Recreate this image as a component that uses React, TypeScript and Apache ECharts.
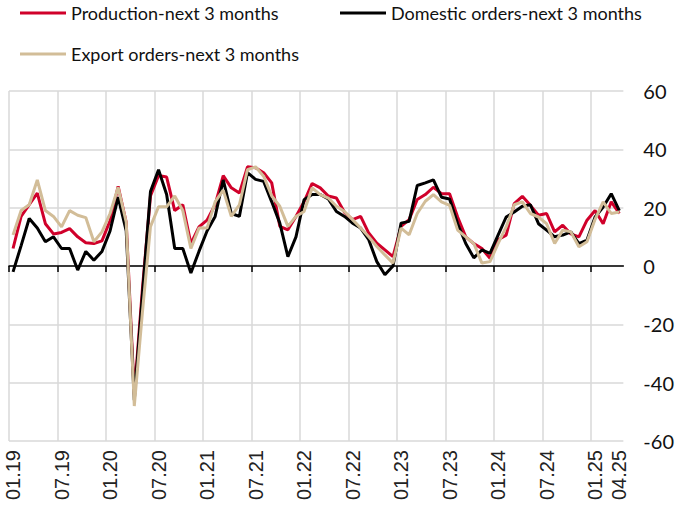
import React, { useEffect, useRef } from 'react';
import * as echarts from 'echarts';

const seriesNames = ['Production-next 3 months', 'Domestic orders-next 3 months', 'Export orders-next 3 months'];

// Monthly values, Jan 2019 .. Apr 2025 (76 months)
const production = [
  6, 17, 21, 25, 14.5, 11, 11.5, 12.8, 10, 8, 7.7, 8.6,
  15.5, 27.3, 15, -44, -8, 24, 31, 30.5, 19, 21, 7.7, 13.4,
  15.7, 21, 31, 26.8, 25, 34, 33.7, 32, 28.5, 13.6, 12.4, 17,
  22, 28.3, 26.8, 24, 23.3, 18.4, 15.9, 17, 11.3, 7.8, 5.5, 3.2,
  13.6, 15.9, 22.8, 24.5, 27, 24.8, 24.8, 16.8, 10, 7.7, 6, 2.6,
  9, 10.6, 21.4, 23.9, 20.8, 17.4, 18, 11.7, 14, 11, 10, 15.7,
  19, 14.5, 22, 18,
];
const domestic = [
  -2, 7, 16.3, 13, 8.3, 10, 6, 6, -1.4, 5, 2, 5,
  12, 23.6, 12, -46, -10, 25.5, 33, 24.5, 6, 6, -2.4, 5,
  12, 17, 29.5, 18, 17, 32, 29.7, 29, 22, 14.7, 3.2, 10,
  22.7, 24.5, 24.5, 23, 18.7, 17, 14.7, 13, 9, 1.5, -3, 0,
  14.7, 15.3, 27.6, 28.5, 29.5, 23.6, 23, 14.5, 7.7, 2.8, 5.5, 4.3,
  10.6, 16.8, 18.5, 20.5, 21, 14.5, 12.3, 10, 10.6, 11.7, 7.7, 8.9,
  16.8, 20.2, 24.8, 19,
];
const exportOrders = [
  10.6, 19, 21, 29.5, 19, 17, 13.4, 19, 17.4, 16.6, 8.3, 11.7,
  18, 27, 15, -48, -16, 13.5, 20.3, 20.3, 24, 19, 6, 13,
  13, 22, 26, 17, 21, 33, 34, 30.8, 24, 20.5, 13.6, 17,
  18.7, 26.8, 24.5, 23.3, 20.5, 18.7, 15.9, 13, 10, 6.7, 3.8, 1,
  13, 10.7, 18, 22.2, 24.5, 22, 20.8, 12.3, 10, 7.7, 1, 1.5,
  7.7, 13.4, 21, 22, 18, 16.8, 14.5, 7.7, 12.3, 11.7, 6.6, 8.3,
  16, 22, 18, 18.5,
];

const tickLabels = ['01.19', '07.19', '01.20', '07.20', '01.21', '07.21', '01.22', '07.22', '01.23', '07.23', '01.24', '07.24', '01.25', '04.25'];
const tickMonthIndex = [0, 6, 12, 18, 24, 30, 36, 42, 48, 54, 60, 66, 72, 75];
const yTicks = [-60, -40, -20, 0, 20, 40, 60];

const colors = ['#d0002a', '#000000', '#d2bd98'];
const NARROW = "'Liberation Sans Narrow', Lato, sans-serif";

export default function App() {
  const ref = useRef<HTMLDivElement>(null);
  useEffect(() => {
    if (!ref.current) return;
    const chart = echarts.init(ref.current, null, { renderer: 'svg' });
    const toPts = (arr: number[]) => arr.map((v, i) => [i + 0.5, v]);
    const gridTicks = [0, 6, 12, 18, 24, 30, 36, 42, 48, 54, 60, 66, 72];
    const labelPos = tickMonthIndex.map((m) => m + 0.5);
    const legendBase = {
      icon: 'rect',
      itemWidth: 46,
      itemHeight: 3,
      itemGap: 5,
      padding: 0,
      textStyle: { fontFamily: NARROW, fontSize: 18, color: '#111' },
      selectedMode: false,
    };
    chart.setOption({
      animation: false,
      backgroundColor: '#fff',
      color: colors,
      legend: [
        { ...legendBase, data: [seriesNames[0]], left: 20, top: 4 },
        { ...legendBase, data: [seriesNames[1]], left: 340, top: 4 },
        { ...legendBase, data: [seriesNames[2]], left: 20, top: 45 },
      ],
      grid: { left: 9, right: 46.5, top: 91, bottom: 74 },
      xAxis: [
        {
          type: 'value',
          min: 0,
          max: 76,
          position: 'bottom',
          axisLine: { show: true, onZero: true, lineStyle: { color: '#000', width: 1.5 } },
          axisTick: { show: true, customValues: gridTicks, length: 6, lineStyle: { color: '#000', width: 1.5 } },
          axisLabel: { show: false },
          splitLine: { show: true, lineStyle: { color: '#d9d9d9', width: 1.5 } },
        },
        {
          type: 'value',
          min: 0,
          max: 76,
          position: 'bottom',
          axisLine: { show: false, onZero: false },
          axisTick: { show: false },
          splitLine: { show: false },
          axisLabel: {
            show: true,
            customValues: labelPos,
            formatter: (v: number) => {
              const k = labelPos.indexOf(v);
              return k >= 0 ? tickLabels[k] : '';
            },
            rotate: 90,
            margin: 9,
            padding: [5, 0, 0, 0],
            fontFamily: "'Liberation Sans', Arial, sans-serif",
            fontSize: 20,
            color: '#222',
          },
        },
      ],
      yAxis: {
        type: 'value',
        position: 'right',
        min: -60,
        max: 60,
        interval: 20,
        axisLine: { show: false },
        axisTick: { show: false },
        axisLabel: {
          margin: 20,
          fontFamily: NARROW,
          fontSize: 20,
          color: '#111',
          formatter: (v: number) => (yTicks.includes(v) ? String(v) : ''),
        },
        splitLine: { show: true, lineStyle: { color: '#d9d9d9', width: 1.5 } },
      },
      series: [
        { name: seriesNames[0], type: 'line', data: toPts(production), symbol: 'none', lineStyle: { width: 3, color: colors[0] }, itemStyle: { color: colors[0] } },
        { name: seriesNames[1], type: 'line', data: toPts(domestic), symbol: 'none', lineStyle: { width: 3, color: colors[1] }, itemStyle: { color: colors[1] } },
        { name: seriesNames[2], type: 'line', data: toPts(exportOrders), symbol: 'none', lineStyle: { width: 3, color: colors[2] }, itemStyle: { color: colors[2] } },
      ],
    });
    return () => chart.dispose();
  }, []);
  return <div ref={ref} style={{ position: 'fixed', left: 0, top: 0, width: 677, height: 515 }} />;
}
